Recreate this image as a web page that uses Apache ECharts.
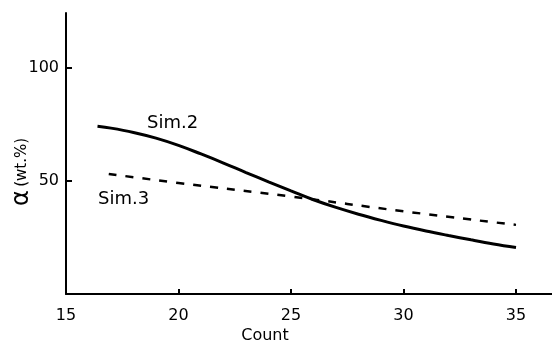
<!DOCTYPE html>
<html><head><meta charset="utf-8">
<script src="https://cdn.jsdelivr.net/npm/echarts@6/dist/echarts.min.js"></script>
<style>html,body{margin:0;padding:0;background:#fff}#c{width:552px;height:345px}</style>
</head><body><div id="c"></div>
<script>
const xTickLabels = [15, 20, 25, 30, 35];
const yTickLabels = [50, 100];
const sim2X = [16.4, 17, 18, 19, 20, 21, 22, 23, 24, 25, 26, 27, 28, 29, 30, 31, 32, 33, 34, 35];
const sim2Y = [74, 73.2, 71.3, 68.8, 65.6, 61.8, 57.8, 53.6, 49.5, 45.5, 41.6, 38.2, 35.2, 32.5, 30, 27.8, 25.8, 23.9, 22.1, 20.5];
const sim3X = [16.9, 20, 25, 30, 35];
const sim3Y = [53, 49, 43, 36.5, 30.5];
const seriesNames = ['Sim.2', 'Sim.3'];
const xName = 'Count';

const chart = echarts.init(document.getElementById('c'), null, {renderer: 'canvas'});
const font = 'DejaVu Sans';
chart.setOption({
  animation: false,
  backgroundColor: '#fff',
  grid: {left: 66, top: 13, right: 0, bottom: 51},
  xAxis: {
    type: 'value', min: 15, max: 36.6, interval: 5,
    axisLine: {lineStyle: {color: '#000', width: 2}},
    axisTick: {inside: true, length: 5, lineStyle: {color: '#000', width: 2}, customValues: [20, 25, 30, 35]},
    axisLabel: {color: '#000', fontSize: 16, fontFamily: font, margin: 14, customValues: xTickLabels},
    splitLine: {show: false}
  },
  yAxis: {
    type: 'value', min: 0, max: 124, interval: 50,
    axisLine: {show: true, lineStyle: {color: '#000', width: 2}},
    axisTick: {show: true, inside: true, length: 6, lineStyle: {color: '#000', width: 2}, customValues: yTickLabels},
    axisLabel: {color: '#000', fontSize: 16, fontFamily: font, margin: 7, customValues: yTickLabels},
    splitLine: {show: false}
  },
  series: [
    {name: seriesNames[0], type: 'line', smooth: 0.4, symbol: 'none',
     lineStyle: {color: '#000', width: 3},
     data: sim2X.map((x, i) => [x, sim2Y[i]])},
    {name: seriesNames[1], type: 'line', smooth: true, symbol: 'none',
     lineStyle: {color: '#000', width: 2.5, type: [8, 9]},
     data: sim3X.map((x, i) => [x, sim3Y[i]])}
  ],
  graphic: [
    {type: 'text', left: 147, top: 114, style: {text: seriesNames[0], fill: '#000', font: '18px DejaVu Sans'}},
    {type: 'text', left: 98, top: 190, style: {text: seriesNames[1], fill: '#000', font: '18px DejaVu Sans'}},
    {type: 'text', x: 265, y: 336, style: {text: xName, fill: '#000', font: '16px DejaVu Sans', align: 'center', verticalAlign: 'middle'}},
    {type: 'text', x: 22, y: 172, rotation: Math.PI / 2,
     style: {text: '{a|α} {b|(wt.%)}', align: 'center', verticalAlign: 'middle',
       rich: {a: {fontSize: 24, fontFamily: font, fill: '#000'}, b: {fontSize: 15, fontFamily: font, fill: '#000'}}}}
  ]
});
</script></body></html>
